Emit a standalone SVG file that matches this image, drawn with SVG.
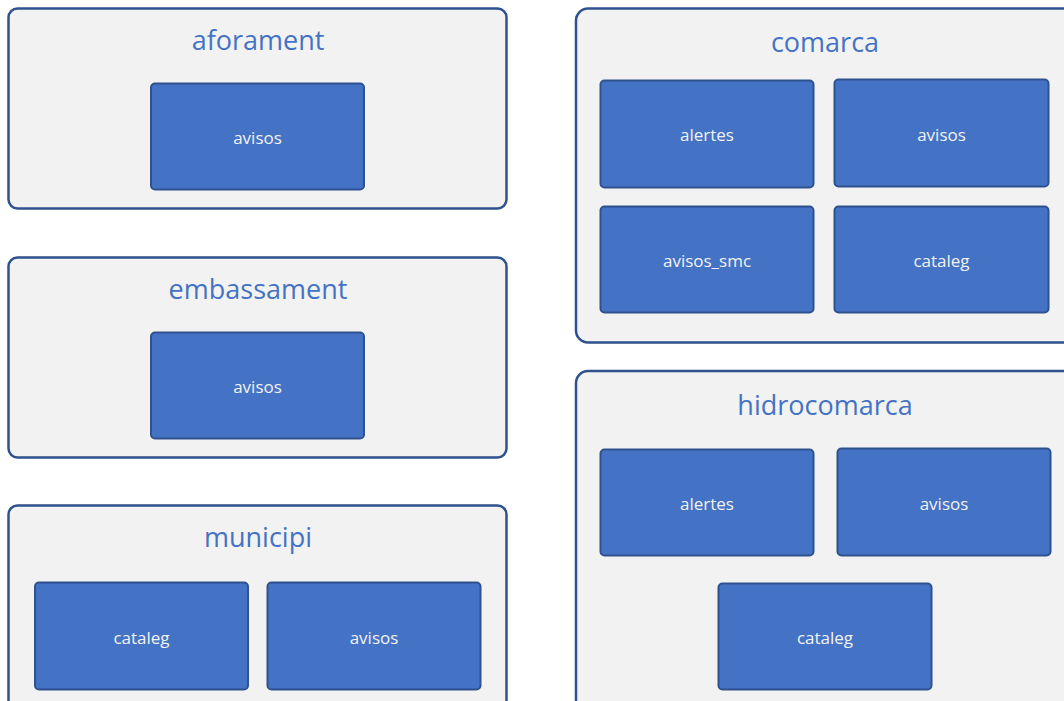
<svg xmlns="http://www.w3.org/2000/svg" width="1064" height="701" viewBox="0 0 1064 701">
  <style>
    .group { fill: #f2f2f2; stroke: #2f528f; stroke-width: 2.5; }
    .table { fill: #4472c4; stroke: #2f528f; stroke-width: 2; }
    .title { font-family: "Open Sans", "Liberation Sans", sans-serif; font-size: 27px; fill: #4472c4; text-anchor: middle; }
    .label { font-family: "Open Sans", "Liberation Sans", sans-serif; font-size: 17px; fill: #f2f2f2; text-anchor: middle; }
  </style>
  <rect width="1064" height="701" fill="#ffffff"/>

  <g id="aforament">
    <rect class="group" x="8.5" y="8.5" width="498" height="200" rx="9"/>
    <text class="title" x="258" y="50">aforament</text>
    <g id="aforament-avisos">
      <rect class="table" x="151" y="83.5" width="213" height="106" rx="4"/>
      <text class="label" x="257.5" y="144">avisos</text>
    </g>
  </g>

  <g id="embassament">
    <rect class="group" x="8.5" y="257.5" width="498" height="200" rx="9"/>
    <text class="title" x="258" y="299">embassament</text>
    <g id="embassament-avisos">
      <rect class="table" x="151" y="332.5" width="213" height="106" rx="4"/>
      <text class="label" x="257.5" y="393">avisos</text>
    </g>
  </g>

  <g id="municipi">
    <rect class="group" x="8.5" y="505.5" width="498" height="220" rx="9"/>
    <text class="title" x="258" y="547">municipi</text>
    <g id="municipi-cataleg">
      <rect class="table" x="35" y="582.5" width="213" height="107" rx="4"/>
      <text class="label" x="141.5" y="644">cataleg</text>
    </g>
    <g id="municipi-avisos">
      <rect class="table" x="267.5" y="582.5" width="213" height="107" rx="4"/>
      <text class="label" x="374" y="644">avisos</text>
    </g>
  </g>

  <g id="comarca">
    <rect class="group" x="576" y="8.5" width="510" height="334" rx="12"/>
    <text class="title" x="825" y="52">comarca</text>
    <g id="comarca-alertes">
      <rect class="table" x="600.5" y="80.5" width="213" height="107" rx="4"/>
      <text class="label" x="707" y="141">alertes</text>
    </g>
    <g id="comarca-avisos">
      <rect class="table" x="834.5" y="79.5" width="214" height="107" rx="4"/>
      <text class="label" x="941.5" y="141">avisos</text>
    </g>
    <g id="comarca-avisos_smc">
      <rect class="table" x="600.5" y="206.5" width="213" height="106" rx="4"/>
      <text class="label" x="707" y="267">avisos_smc</text>
    </g>
    <g id="comarca-cataleg">
      <rect class="table" x="834.5" y="206.5" width="214" height="106" rx="4"/>
      <text class="label" x="941.5" y="267">cataleg</text>
    </g>
  </g>

  <g id="hidrocomarca">
    <rect class="group" x="576" y="371" width="510" height="360" rx="12"/>
    <text class="title" x="825" y="415">hidrocomarca</text>
    <g id="hidrocomarca-alertes">
      <rect class="table" x="600.5" y="449.5" width="213" height="106" rx="4"/>
      <text class="label" x="707" y="510">alertes</text>
    </g>
    <g id="hidrocomarca-avisos">
      <rect class="table" x="837.5" y="448.5" width="213" height="107" rx="4"/>
      <text class="label" x="944" y="510">avisos</text>
    </g>
    <g id="hidrocomarca-cataleg">
      <rect class="table" x="718.5" y="583.5" width="213" height="106" rx="4"/>
      <text class="label" x="825" y="644">cataleg</text>
    </g>
  </g>

  <g id="connectors"/>
</svg>
